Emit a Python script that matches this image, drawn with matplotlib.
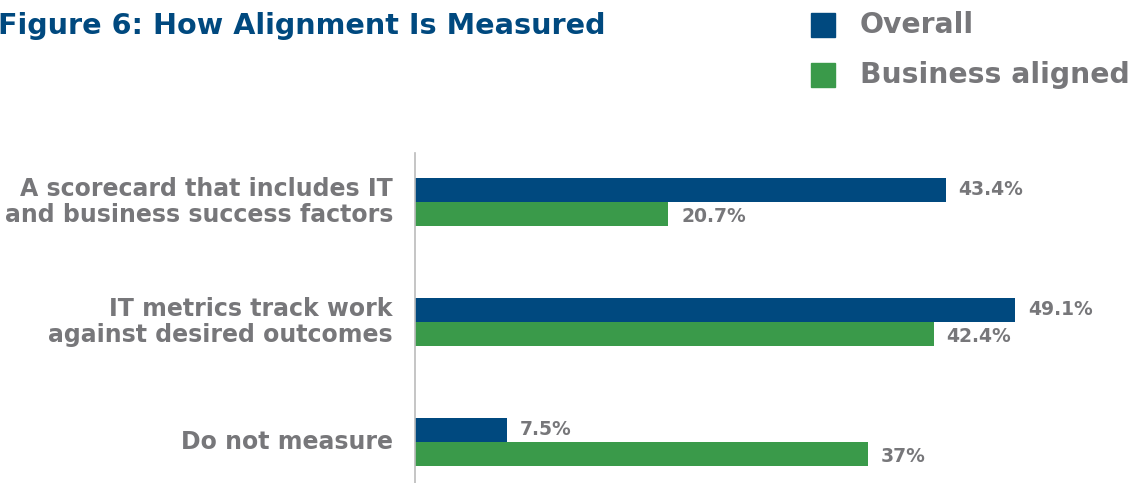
import matplotlib
matplotlib.use("Agg")
import matplotlib.pyplot as plt
from matplotlib.patches import Rectangle

categories = [
    "A scorecard that includes IT\nand business success factors",
    "IT metrics track work\nagainst desired outcomes",
    "Do not measure",
]
overall = [43.4, 49.1, 7.5]
business_aligned = [20.7, 42.4, 37.0]
overall_labels = ["43.4%", "49.1%", "7.5%"]
aligned_labels = ["20.7%", "42.4%", "37%"]
series_names = ["Overall", "Business aligned"]

BLUE = "#00497F"
GREEN = "#3A9A4A"
GRAY = "#77777A"
FONT = "DejaVu Sans"

fig = plt.figure(figsize=(11.34, 4.83), dpi=100)
W, H = 1134, 483

# plot area: left edge at the axis line, top where the line starts
ax = fig.add_axes([415 / W, 0, 1 - 415 / W, (H - 153) / H])
bar_h = 0.2
ypos = list(range(len(categories)))
ax.barh([y - bar_h / 2 for y in ypos], overall, height=bar_h, color=BLUE)
ax.barh([y + bar_h / 2 for y in ypos], business_aligned, height=bar_h, color=GREEN)

ax.set_xlim(0, (W - 415) / 12.23)
ax.set_ylim(2.342, -0.408)

for y, v, t in zip(ypos, overall, overall_labels):
    ax.text(v + 1.05, y - bar_h / 2, t, va="center", ha="left",
            fontsize=13.5, fontweight="bold", color=GRAY, family=FONT)
for y, v, t in zip(ypos, business_aligned, aligned_labels):
    ax.text(v + 1.05, y + bar_h / 2 + 0.02, t, va="center", ha="left",
            fontsize=13.5, fontweight="bold", color=GRAY, family=FONT)

for y, c in zip(ypos, categories):
    ax.text(-1.8, y, c, va="center", ha="right", fontsize=17,
            fontweight="bold", color=GRAY, family=FONT, linespacing=1.12)

for s in ["top", "right", "bottom"]:
    ax.spines[s].set_visible(False)
ax.spines["left"].set_color("#BBBBBB")
ax.spines["left"].set_linewidth(1.2)
ax.set_xticks([])
ax.set_yticks([])

# title
fig.text(-2 / W, 1 - 26 / H, "Figure 6: How Alignment Is Measured", ha="left",
         va="center", fontsize=20.6, fontweight="bold", color=BLUE, family=FONT)

# legend
for i, (name, col) in enumerate(zip(series_names, [BLUE, GREEN])):
    yc = 25 + i * 50
    fig.patches.append(Rectangle((811 / W, 1 - (yc + 12) / H), 24 / W, 24 / H,
                                 transform=fig.transFigure, color=col))
    fig.text(860 / W, 1 - yc / H, name, ha="left", va="center", fontsize=20.3,
             fontweight="bold", color=GRAY, family=FONT)

fig.savefig("out.png", dpi=100)
